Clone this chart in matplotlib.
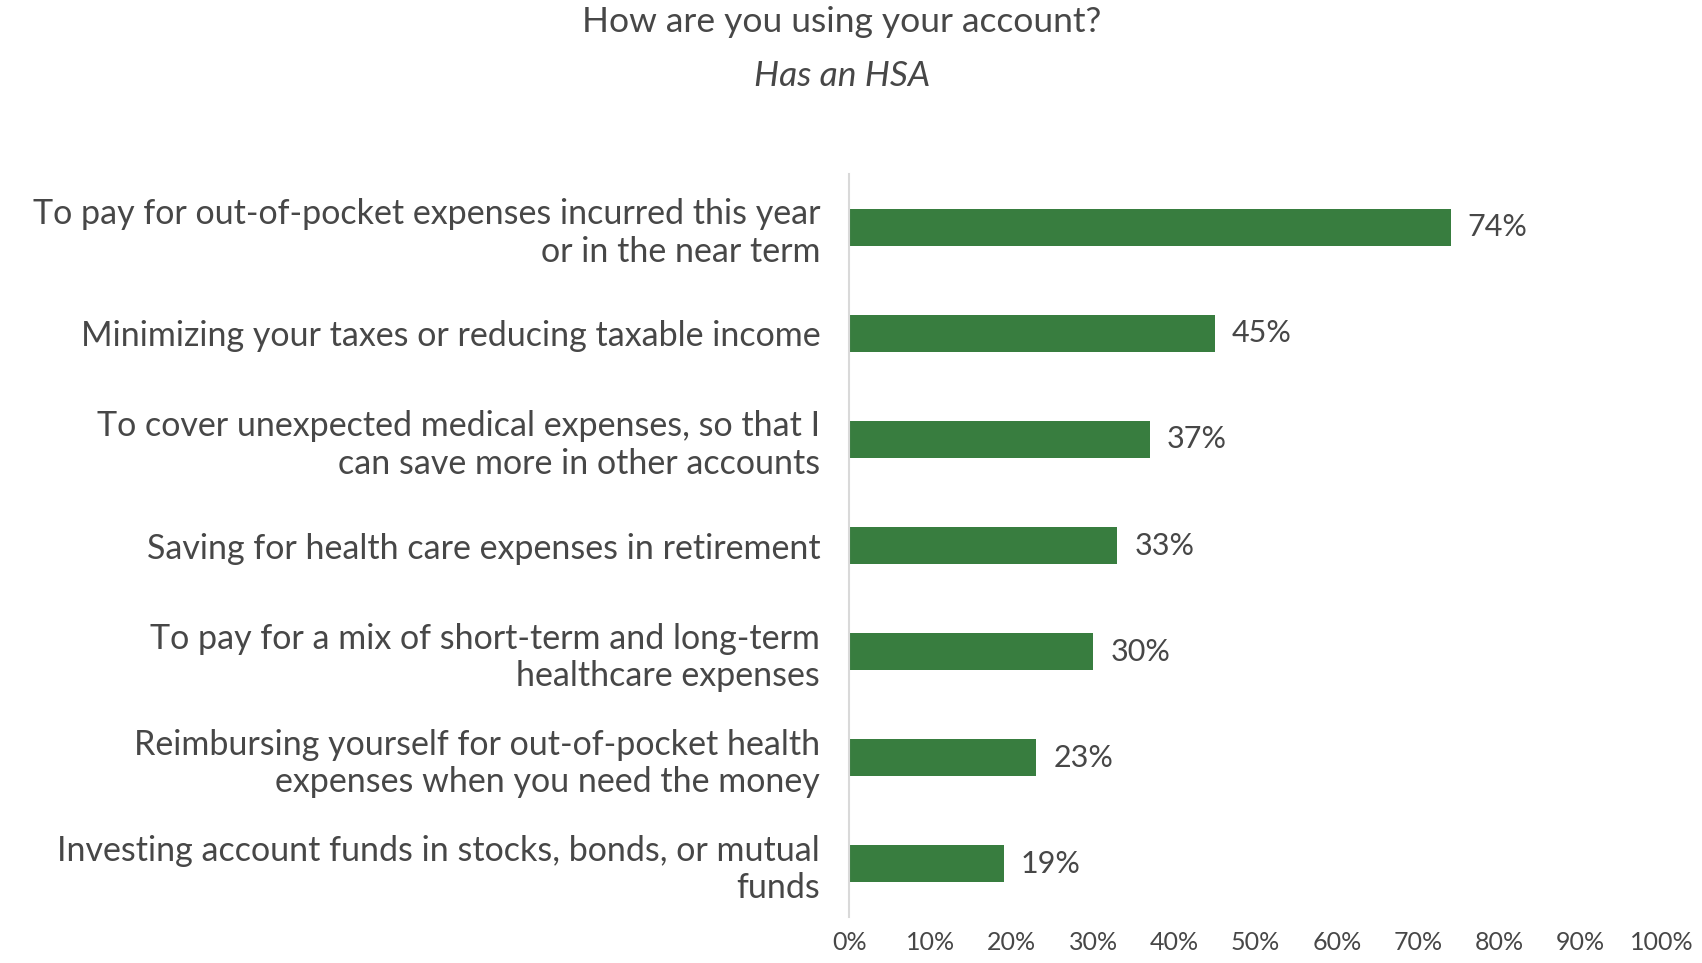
import matplotlib.pyplot as plt
from matplotlib.ticker import PercentFormatter

plt.rcParams['font.family'] = ['Lato', 'DejaVu Sans']

categories = [
    "To pay for out-of-pocket expenses incurred this year\nor in the near term",
    "Minimizing your taxes or reducing taxable income",
    "To cover unexpected medical expenses, so that I\ncan save more in other accounts",
    "Saving for health care expenses in retirement",
    "To pay for a mix of short-term and long-term\nhealthcare expenses",
    "Reimbursing yourself for out-of-pocket health\nexpenses when you need the money",
    "Investing account funds in stocks, bonds, or mutual\nfunds",
]
shares = [74, 45, 37, 33, 30, 23, 19]
x_ticks = list(range(0, 101, 10))

BAR = '#387d3f'
TEXT = '#474747'

fig = plt.figure(figsize=(17.02, 9.63), dpi=100)
ax = fig.add_axes([0.499, 0.048, 0.4775, 0.771])

ypos = list(range(len(categories)))
bars = ax.barh(ypos, shares, height=0.35, color=BAR)
ax.set_ylim(len(categories) - 0.5, -0.5)
ax.set_xlim(0, 100)

# value labels just past the end of each bar
for rect, v in zip(bars, shares):
    ax.text(rect.get_width() + 2.1, rect.get_y() + rect.get_height() / 2, f"{v}%",
            va='center', ha='left', fontsize=22, color=TEXT)

ax.set_yticks(ypos)
ax.set_yticklabels(categories, fontsize=24.5, color=TEXT, linespacing=1.22)
ax.set_xticks(x_ticks)
ax.xaxis.set_major_formatter(PercentFormatter(decimals=0))
ax.tick_params(axis='y', length=0, pad=21)
ax.tick_params(axis='x', length=0, pad=10, labelsize=18, labelcolor=TEXT)

for s in ['top', 'right', 'bottom']:
    ax.spines[s].set_visible(False)
ax.spines['left'].set_color('#d9d9d9')
ax.spines['left'].set_linewidth(1.5)

fig.text(0.4945, 0.977, "How are you using your account?", ha='center', va='center',
         fontsize=25.5, color=TEXT)
fig.text(0.4945, 0.921, "Has an HSA", ha='center', va='center',
         fontsize=25.5, color=TEXT, fontstyle='italic')

fig.savefig('out.png', dpi=100)
